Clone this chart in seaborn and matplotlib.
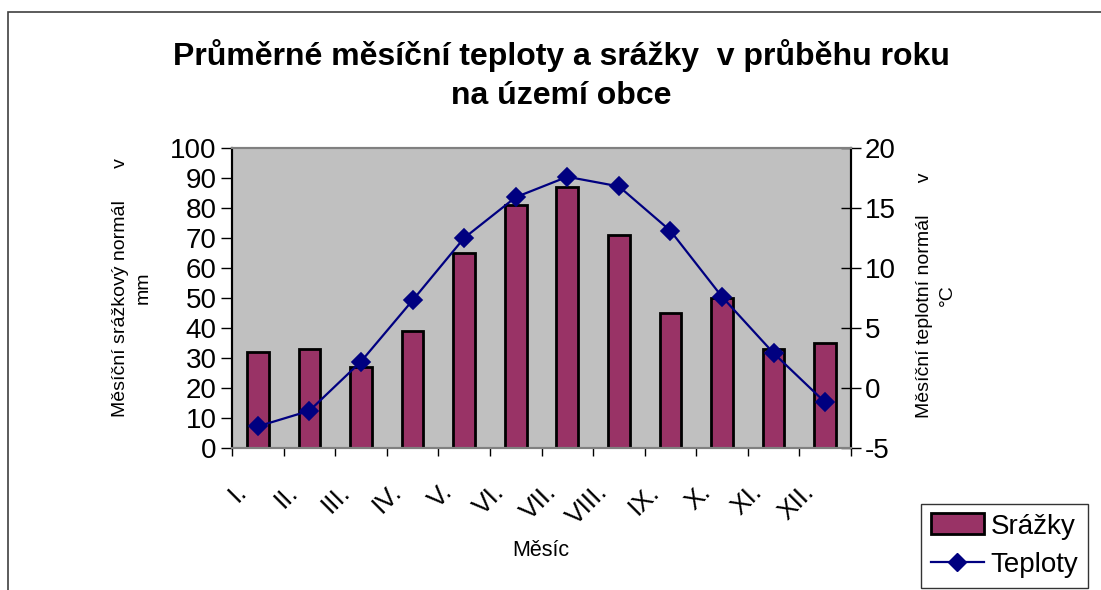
"""
Průměrné měsíční teploty a srážky – recreation of a climate diagram
(bars = precipitation on the left axis, line = temperature on the right axis).
"""
import numpy as np
import pandas as pd
import matplotlib
matplotlib.use("Agg")
import matplotlib.pyplot as plt
from matplotlib.patches import Patch, Rectangle
from matplotlib.lines import Line2D
from matplotlib.transforms import ScaledTranslation
import seaborn as sns

# ── data ────────────────────────────────────────────────────────────────
months = ["I.", "II.", "III.", "IV.", "V.", "VI.",
          "VII.", "VIII.", "IX.", "X.", "XI.", "XII."]
srazky = [32, 33, 27, 39, 65, 81, 87, 71, 45, 50, 33, 35]            # mm
teploty = [-3.2, -1.9, 2.2, 7.3, 12.5, 15.9, 17.6, 16.8, 13.1, 7.6, 2.9, -1.2]  # °C

left_ticks = list(range(0, 101, 10))
right_ticks = list(range(-5, 21, 5))

BAR_COLOR = "#993366"
LINE_COLOR = "#000080"
PLOT_BG = "#C0C0C0"

plt.rcParams["font.family"] = ["Liberation Sans", "DejaVu Sans"]
plt.rcParams["axes.unicode_minus"] = False

df = pd.DataFrame({"mesic": months, "srazky": srazky, "teploty": teploty})

W, H = 1101, 590
fig = plt.figure(figsize=(W / 100, H / 100), dpi=100)
ax = fig.add_axes([232 / W, (H - 448) / H, (851 - 232) / W, 300 / H])
ax.set_facecolor(PLOT_BG)

# outer chart frame
fig.patches.append(Rectangle((8 / W, -0.1), 1.2, (H - 12) / H + 0.1,
                             transform=fig.transFigure, fill=False,
                             edgecolor="#404040", linewidth=1.2))

# ── bars ────────────────────────────────────────────────────────────────
sns.barplot(data=df, x="mesic", y="srazky", ax=ax, color=BAR_COLOR,
            saturation=1, width=0.42, edgecolor="black", linewidth=2)

# ── line on twin axis ───────────────────────────────────────────────────
ax2 = ax.twinx()
sns.pointplot(data=df, x="mesic", y="teploty", ax=ax2, color=LINE_COLOR,
              markers="D", markersize=9.5, linewidth=1.6, errorbar=None)

ax.set_xlim(-0.5, 11.5)
ax.set_ylim(0, 100)
ax2.set_ylim(-5, 20)
ax.set_yticks(left_ticks)
ax2.set_yticks(right_ticks)
ax.set_xlabel("")
ax.set_ylabel("")
ax2.set_xlabel("")
ax2.set_ylabel("")
ax.grid(False)
ax2.grid(False)

for a in (ax, ax2):
    a.spines["left"].set_color("black")
    a.spines["right"].set_color("black")
    a.spines["top"].set_color("#808080")
    a.spines["bottom"].set_color("#808080")
    for s in a.spines.values():
        s.set_linewidth(1.5)

ax.tick_params(axis="y", labelsize=20, length=8, width=1, direction="out", pad=3)
ax2.tick_params(axis="y", labelsize=20, length=14, width=1, direction="inout", pad=3)

# x ticks: marks between categories, labels rotated under each bar
ax.set_xticks(range(len(months)))
ax.set_xticklabels(months)
ax.set_xticks(np.arange(-0.5, len(months), 1), minor=True)
ax.tick_params(axis="x", which="major", length=0, pad=29, labelsize=19)
ax.tick_params(axis="x", which="minor", length=6, width=1, direction="out")
ax2.tick_params(axis="x", which="both", length=0, labelbottom=False)
offset = ScaledTranslation(-0.15, 0, fig.dpi_scale_trans)
for lab in ax.get_xticklabels():
    lab.set_rotation(45)
    lab.set_ha("right")
    lab.set_va("center")
    lab.set_rotation_mode("anchor")
    lab.set_transform(lab.get_transform() + offset)

# ── texts ───────────────────────────────────────────────────────────────
fig.text(561 / W, 1 - 75 / H,
         "Průměrné měsíční teploty a srážky  v průběhu roku\nna území obce",
         ha="center", va="center", fontsize=23, fontweight="bold",
         linespacing=1.42)
fig.text(132 / W, 1 - 288 / H, "Měsíční srážkový normál      v\nmm",
         rotation=90, ha="center", va="center", multialignment="center",
         fontsize=14, linespacing=1.45)
fig.text(936 / W, 1 - 295 / H, "Měsíční teplotní normál      v\n°C",
         rotation=90, ha="center", va="center", multialignment="center",
         fontsize=14, linespacing=1.45)
fig.text(541 / W, 1 - 551 / H, "Měsíc", ha="center", va="center", fontsize=15.5)

# ── legend ──────────────────────────────────────────────────────────────
handles = [Patch(facecolor=BAR_COLOR, edgecolor="black", linewidth=2),
           Line2D([], [], color=LINE_COLOR, marker="D", markersize=9.5, linewidth=1.6)]
leg = fig.legend(handles, ["Srážky", "Teploty"], loc="lower right",
                 bbox_to_anchor=(1088 / W, 2 / H), fontsize=20,
                 frameon=True, fancybox=False, edgecolor="black",
                 handlelength=1.9, handleheight=0.8, handletextpad=0.25,
                 borderpad=0.35, labelspacing=0.45, borderaxespad=0)
leg.get_frame().set_linewidth(1)

fig.savefig("out.png", dpi=100)
